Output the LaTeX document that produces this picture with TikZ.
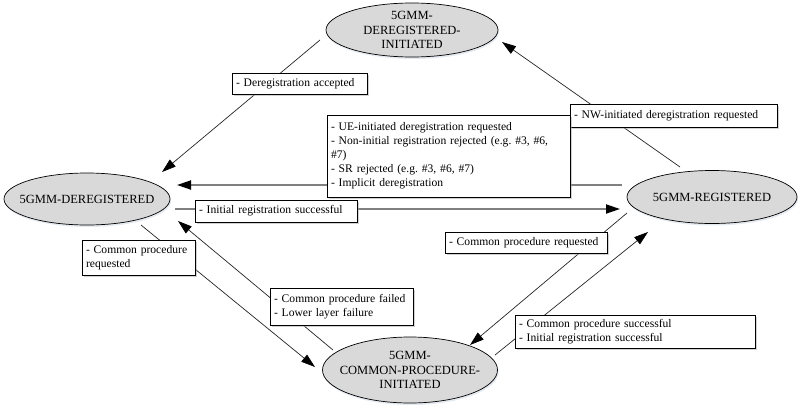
\documentclass[tikz,border=0pt]{standalone}
\usepackage{fontspec}
\setmainfont{Liberation Serif}
\usetikzlibrary{arrows.meta,shadows,shapes.geometric}
\newcommand\dgfont{\fontsize{11.6}{14}\selectfont\frenchspacing\hyphenpenalty=10000 }
\newcommand\dgsfont{\fontsize{12.5}{14.5}\selectfont}
\begin{document}
\begin{tikzpicture}[x=1pt,y=-1pt,
 state/.style={ellipse, draw=black, line width=0.7pt, fill={rgb,255:red,217;green,217;blue,217}, inner sep=0pt,
   drop shadow={shadow xshift=1pt, shadow yshift=-2pt, fill={rgb,255:red,205;green,214;blue,228}}},
 stxt/.style={font=\dgsfont, align=center, inner sep=0pt},
 lbl/.style={draw=black, line width=0.7pt, fill=white, font=\dgfont, align=left, inner xsep=4pt, inner ysep=0pt,
   drop shadow={shadow xshift=2pt, shadow yshift=-2pt, fill=gray!70}},
 thinarr/.style={draw=black!85, line width=0.7pt, -{Triangle[length=14pt,width=9pt,color=black]}},
 thickarr/.style={draw=gray, line width=1.8pt, -{Triangle[length=14pt,width=9pt,color=black]}}
]
\useasboundingbox[fill=white] (0,0) rectangle (803,407);

% states
\node[state, minimum width=172pt, minimum height=54pt] (di) at (412,30) {};
\node[stxt] (dit) at (di) {5GMM-\\DEREGISTERED-\\INITIATED};
\node[state, minimum width=166pt, minimum height=52pt] (dr) at (87,199) {};
\node[stxt] (drt) at (dr) {5GMM-DEREGISTERED};
\node[state, minimum width=170pt, minimum height=53pt] (rg) at (712,197) {};
\node[stxt] (rgt) at (rg) {5GMM-REGISTERED};
\node[state, minimum width=175pt, minimum height=66pt] (cp) at (410,370) {};
\node[stxt] (cpt) at (cp) {5GMM-\\COMMON-PROCEDURE-\\INITIATED};

% connectors
\draw[thinarr] ([shift={(-92,10)}]di.center) -- ([shift={(75,-27)}]dr.center);
\draw[thinarr] ([shift={(-32,-30)}]rg.center) -- ([shift={(90,12)}]di.center);
\draw[thickarr] ([shift={(-90,-12)}]rg.center) -- ([shift={(90,-14)}]dr.center);
\draw[thickarr] ([shift={(88,10)}]dr.center) -- ([shift={(-92,12)}]rg.center);
\draw[thinarr] ([shift={(54,26)}]dr.center) -- ([shift={(-95,-3)}]cp.center);
\draw[thinarr] ([shift={(-77,-20)}]cp.center) -- ([shift={(91,22)}]dr.center);
\draw[thinarr] ([shift={(-85,16)}]rg.center) -- ([shift={(60,-25)}]cp.center);
\draw[thinarr] ([shift={(85,-15)}]cp.center) -- ([shift={(-64,35)}]rg.center);

% labels
\node[lbl, text width=127pt, minimum height=21pt] (l1) at (299.5,83.5) {- Deregistration accepted};
\node[lbl, text width=199pt, minimum height=23pt] (l2) at (673.5,115.5) {- NW-initiated deregistration requested};
\node[lbl, text width=235pt, minimum height=82pt] (l3) at (448.5,156) {- UE-initiated deregistration requested\\- Non-initial registration rejected (e.g. \#3, \#6,\\\#7)\\- SR rejected (e.g. \#3, \#6, \#7)\\- Implicit deregistration};
\node[lbl, text width=154pt, minimum height=22pt] (l4) at (276,211) {- Initial registration successful};
\node[lbl, text width=105pt, minimum height=35pt] (l5) at (138.5,257.5) {- Common procedure\\requested};
\node[lbl, text width=135pt, minimum height=37pt] (l6) at (341.5,306.5) {- Common procedure failed\\- Lower layer failure};
\node[lbl, text width=154pt, minimum height=21pt] (l7) at (526,242.5) {- Common procedure requested};
\node[lbl, text width=232pt, minimum height=33pt] (l8) at (635,331.5) {- Common procedure successful\\- Initial registration successful};
\end{tikzpicture}
\end{document}
